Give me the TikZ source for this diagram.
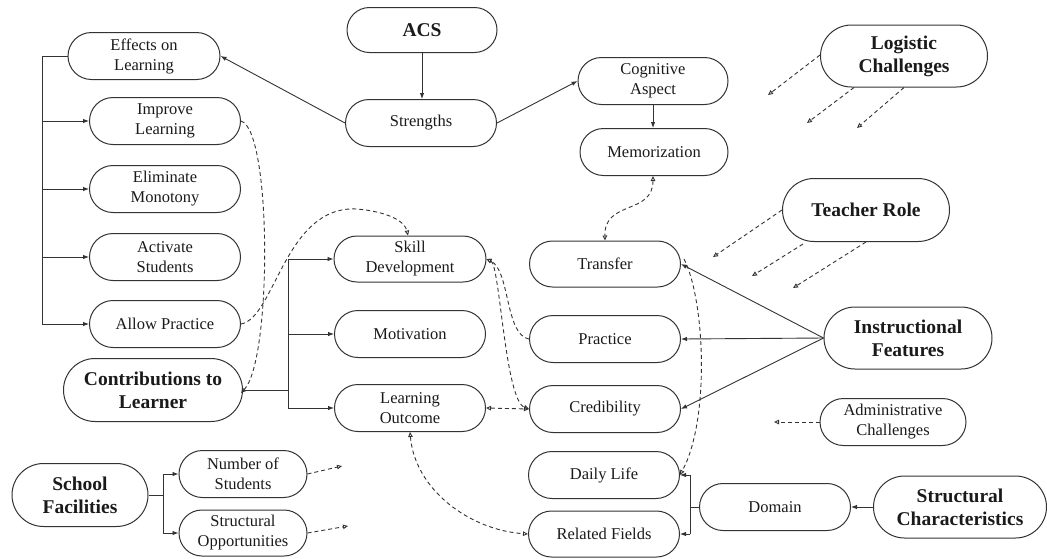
\documentclass[tikz,border=0pt]{standalone}
\usepackage{fontspec}
\setmainfont{Liberation Serif}
\usetikzlibrary{arrows.meta,shapes.misc}
\definecolor{ink}{HTML}{333333}
\definecolor{txt}{HTML}{1A1A1A}
\tikzset{
  box/.style={rounded rectangle, draw=ink, line width=1pt, minimum width=151pt,
    minimum height=47pt, inner sep=0pt, align=center, text=txt,
    font=\fontsize{16.5}{20}\selectfont},
  keybox/.style={box, minimum height=62pt, font=\fontsize{19.5}{23}\selectfont\bfseries},
  link/.style={draw=ink, line width=0.9pt},
  solidarrow/.style={link, -{Latex[length=6pt,width=4.5pt]}},
  dasharrow/.style={link, dash pattern=on 4pt off 3pt, -{Triangle[open,length=5pt,width=4.5pt]}},
  dashboth/.style={link, dash pattern=on 4pt off 3pt,
    {Triangle[open,length=5pt,width=4.5pt]}-{Triangle[open,length=5pt,width=4.5pt]}},
}
\begin{document}
\begin{tikzpicture}[x=1pt,y=-1pt]
\useasboundingbox (0,0) rectangle (1047,558);

% ---- nodes ----
\node[keybox, minimum width=150pt, minimum height=45pt] (acs) at (422,30) {ACS};
\node[box] (str) at (421,123) {Strengths};
\node[box, minimum width=150pt] (cog) at (653,81) {Cognitive\\Aspect};
\node[box, minimum width=148pt] (mem) at (654,152) {Memorization};

\node[box, minimum width=152pt] (eff) at (144,56) {Effects on\\Learning};
\node[box] (imp) at (165,121) {Improve\\Learning};
\node[box] (eli) at (165,189) {Eliminate\\Monotony};
\node[box] (act) at (165,257) {Activate\\Students};
\node[box] (alw) at (165,324) {Allow Practice};
\node[keybox, minimum width=179pt, minimum height=63pt] (con) at (153,390) {Contributions to\\Learner};

\node[box, minimum width=152pt, minimum height=46pt] (skl) at (410,259) {Skill\\Development};
\node[box] (mot) at (410,334) {Motivation};
\node[box] (lo) at (410,408) {Learning\\Outcome};

\node[box, minimum height=46pt] (tra) at (605,264) {Transfer};
\node[box] (pra) at (605,339) {Practice};
\node[box] (cre) at (605,409) {Credibility};
\node[box] (dly) at (604,475) {Daily Life};
\node[box, minimum height=46pt] (rel) at (604,534) {Related Fields};

\node[box] (dom) at (775,507) {Domain};
\node[keybox, minimum width=173pt] (stc) at (960,507) {Structural\\Characteristics};
\node[box, minimum width=146pt] (adm) at (893,422) {Administrative\\Challenges};
\node[keybox, minimum width=168pt] (ins) at (908,338) {Instructional\\Features};
\node[keybox, minimum width=167pt, minimum height=63pt] (tea) at (866,210) {Teacher Role};
\node[keybox, minimum width=167pt] (log) at (904,56) {Logistic\\Challenges};

\node[keybox, minimum width=136pt, minimum height=63pt] (sch) at (80,495) {School\\Facilities};
\node[box, minimum width=128pt] (num) at (243,474) {Number of\\Students};
\node[box, minimum width=128pt, minimum height=46pt] (sop) at (243,533) {Structural\\Opportunities};

% ---- solid connectors ----
\draw[solidarrow] (acs.south) -- (acs.south |- str.north);
\draw[solidarrow] (str.west) -- (eff.east);
\draw[solidarrow] (str.east) -- (cog.west);
\draw[solidarrow] (cog.south) -- (cog.south |- mem.north);

\coordinate (etr) at (42,56);
\draw[link] (eff.west) -- (etr) -- (etr |- alw.west);
\foreach \n in {imp,eli,act,alw}
  \draw[solidarrow] (etr |- \n.west) -- (\n.west);

\coordinate (ctr) at (288,390);
\draw[link] (con.east) -- (ctr);
\draw[link] (ctr |- skl.west) -- (ctr |- lo.west);
\foreach \n in {skl,mot,lo}
  \draw[solidarrow] (ctr |- \n.west) -- (\n.west);

\foreach \n in {tra,pra,cre}
  \draw[solidarrow] (ins.west) -- (\n.east);

\draw[solidarrow] (stc.west) -- (dom.east);
\coordinate (dtr) at (690,507);
\draw[link] (dom.west) -- (dtr);
\draw[link] (dtr |- dly.east) -- (dtr |- rel.east);
\foreach \n in {dly,rel}
  \draw[solidarrow] (dtr |- \n.east) -- (\n.east);

\coordinate (str2) at (163,495);
\draw[link] (sch.east) -- (str2);
\draw[link] (str2 |- num.west) -- (str2 |- sop.west);
\foreach \n in {num,sop}
  \draw[solidarrow] (str2 |- \n.west) -- (\n.west);

% ---- dashed links between nodes ----
\draw[dasharrow] (imp.east) .. controls (272,130) and (272,360) .. ([xshift=-2pt,yshift=-3pt]con.east);
\draw[dasharrow] (alw.east) .. controls (275,318) and (285,205) .. (357,209)
  .. controls (390,212) and (405,222) .. ([xshift=-2pt]skl.north);
\draw[dashboth] ([xshift=-1pt]mem.south) .. controls (653,215) and (604,200) .. (tra.north);
\draw[dasharrow] (pra.west) .. controls (505,335) and (510,270) .. (skl.east);
\draw[dashboth] (skl.east) .. controls (500,265) and (505,400) .. (cre.west);
\draw[dashboth] (lo.east) -- (cre.west);
\draw[dashboth] (lo.south) .. controls (415,490) and (470,530) .. (rel.west);
\draw[dasharrow] ([xshift=3pt,yshift=5pt]tra.east) .. controls (705,300) and (710,420) .. (dly.east);

% ---- dashed pointers with free ends ----
\coordinate (l1) at (768,95);
\coordinate (l2) at (807,123);
\coordinate (l3) at (857,128);
\draw[dasharrow] ([yshift=1pt]log.west) -- (l1);
\draw[dasharrow] ([xshift=-50pt]log.south) -- (l2);
\draw[dasharrow] (log.south) -- (l3);

\coordinate (t1) at (713,257);
\coordinate (t2) at (752,276);
\coordinate (t3) at (793,288);
\draw[dasharrow] (tea.west) -- (t1);
\draw[dasharrow] ([xshift=-63pt,yshift=-2pt]tea.south) -- (t2);
\draw[dasharrow] (tea.south) -- (t3);

\coordinate (a1) at (774,422);
\draw[dasharrow] (adm.west) -- (a1);

\coordinate (s1) at (342,466);
\coordinate (s2) at (348,526);
\draw[dasharrow] (num.east) -- (s1);
\draw[dasharrow] (sop.east) -- (s2);
\end{tikzpicture}
\end{document}
